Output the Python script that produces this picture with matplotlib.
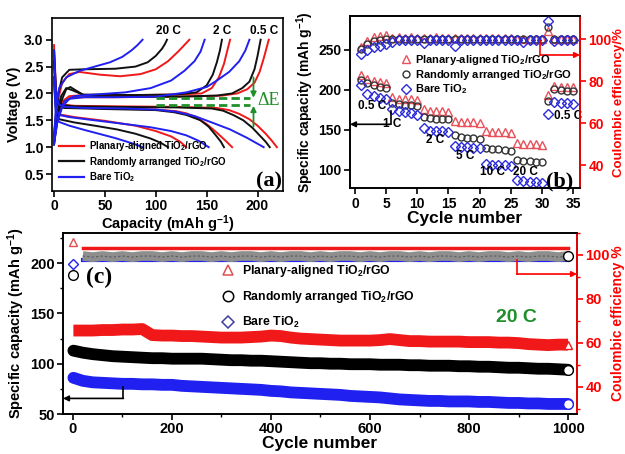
import numpy as np
import matplotlib
matplotlib.use('Agg')
import matplotlib.pyplot as plt
from matplotlib.lines import Line2D
from matplotlib.ticker import MultipleLocator

plt.rcParams['font.family'] = ['Liberation Sans', 'DejaVu Sans']
plt.rcParams['font.weight'] = 'bold'
plt.rcParams['mathtext.fontset'] = 'custom'
plt.rcParams['mathtext.rm'] = 'Liberation Sans:bold'
plt.rcParams['mathtext.it'] = 'Liberation Sans:bold'
plt.rcParams['mathtext.bf'] = 'Liberation Sans:bold'
plt.rcParams['axes.linewidth'] = 1.2

RED = '#f01818'
BLACK = '#111111'
BLUE = '#2020f0'
GREEN = '#1f8f2a'

# ---------------- panel (a): charge/discharge profiles ----------------
red_05_dis_cap = [0, 2, 5, 10, 20, 60, 120, 160, 172, 182, 192, 200, 208, 214, 219]
red_05_dis_v = [2.9, 2.05, 1.85, 1.79, 1.77, 1.76, 1.75, 1.73, 1.69, 1.62, 1.52, 1.40, 1.25, 1.12, 1.0]
red_05_chg_cap = [0, 3, 7, 12, 20, 60, 120, 165, 180, 190, 197, 202, 206, 211]
red_05_chg_v = [1.05, 1.55, 1.8, 1.9, 1.93, 1.93, 1.94, 1.96, 2.0, 2.08, 2.2, 2.4, 2.65, 3.0]
red_2_dis_cap = [0, 2, 5, 10, 50, 100, 120, 130, 138, 150, 160, 168, 175]
red_2_dis_v = [2.7, 1.9, 1.77, 1.74, 1.72, 1.7, 1.67, 1.63, 1.57, 1.43, 1.27, 1.13, 1.0]
red_2_chg_cap = [0, 3, 8, 15, 30, 80, 120, 145, 155, 162, 167, 170, 173]
red_2_chg_v = [1.1, 1.55, 1.85, 1.95, 1.97, 1.97, 1.98, 2.0, 2.1, 2.3, 2.55, 2.78, 3.0]
red_20_dis_cap = [0, 2, 5, 20, 50, 80, 100, 115, 124, 130]
red_20_dis_v = [2.5, 1.72, 1.61, 1.56, 1.49, 1.4, 1.3, 1.2, 1.1, 1.0]
red_20_chg_cap = [0, 3, 8, 15, 25, 45, 65, 85, 100, 112, 122, 128, 133]
red_20_chg_v = [1.2, 1.8, 2.2, 2.36, 2.4, 2.35, 2.32, 2.36, 2.45, 2.6, 2.78, 2.9, 3.0]

black_05_dis_cap = [0, 2, 5, 10, 20, 60, 120, 155, 166, 176, 186, 195, 202, 208, 212]
black_05_dis_v = [2.8, 2.0, 1.82, 1.78, 1.76, 1.75, 1.74, 1.72, 1.68, 1.6, 1.5, 1.36, 1.22, 1.1, 1.0]
black_05_chg_cap = [0, 3, 7, 12, 16, 22, 30, 60, 120, 160, 175, 185, 192, 197, 200, 203]
black_05_chg_v = [1.05, 1.5, 1.85, 2.08, 2.12, 2.05, 1.96, 1.94, 1.94, 1.96, 2.0, 2.1, 2.22, 2.45, 2.7, 3.0]
black_2_dis_cap = [0, 2, 5, 10, 50, 100, 118, 130, 144, 152, 159, 164, 167]
black_2_dis_v = [2.6, 1.88, 1.76, 1.73, 1.71, 1.69, 1.65, 1.6, 1.5, 1.38, 1.22, 1.1, 1.0]
black_2_chg_cap = [0, 3, 7, 12, 18, 28, 80, 120, 140, 150, 156, 160, 163, 165]
black_2_chg_v = [1.1, 1.6, 1.95, 2.1, 2.06, 1.98, 1.97, 1.98, 2.02, 2.15, 2.35, 2.58, 2.8, 3.0]
black_20_dis_cap = [0, 2, 5, 20, 40, 62, 80, 95, 105, 112]
black_20_dis_v = [2.3, 1.6, 1.52, 1.46, 1.4, 1.33, 1.25, 1.16, 1.08, 1.0]
black_20_chg_cap = [0, 3, 8, 15, 30, 60, 80, 92, 100, 106, 109, 111]
black_20_chg_v = [1.2, 1.9, 2.3, 2.44, 2.45, 2.46, 2.5, 2.58, 2.7, 2.83, 2.92, 3.0]

blue_05_dis_cap = [0, 2, 5, 10, 30, 70, 100, 120, 138, 155, 173, 190, 206]
blue_05_dis_v = [2.8, 1.95, 1.79, 1.75, 1.73, 1.72, 1.7, 1.66, 1.58, 1.46, 1.33, 1.17, 1.0]
blue_05_chg_cap = [0, 3, 8, 15, 30, 60, 100, 130, 150, 160, 172, 182, 188, 192]
blue_05_chg_v = [1.05, 1.45, 1.75, 1.9, 1.93, 1.93, 1.94, 2.02, 2.12, 2.24, 2.4, 2.6, 2.8, 3.0]
blue_2_dis_cap = [0, 2, 5, 15, 40, 70, 95, 115, 130, 142, 152]
blue_2_dis_v = [2.3, 1.7, 1.6, 1.56, 1.5, 1.43, 1.37, 1.3, 1.22, 1.12, 1.0]
blue_2_chg_cap = [0, 4, 10, 20, 40, 70, 95, 115, 128, 138, 144, 148]
blue_2_chg_v = [1.1, 1.55, 1.85, 1.95, 1.98, 2.02, 2.1, 2.24, 2.42, 2.6, 2.78, 3.0]
blue_20_dis_cap = [0, 2, 5, 15, 30, 46, 60, 72, 80, 87]
blue_20_dis_v = [2.2, 1.55, 1.47, 1.4, 1.32, 1.24, 1.17, 1.1, 1.05, 1.0]
blue_20_chg_cap = [0, 2, 5, 12, 25, 40, 55, 67, 76, 82, 87]
blue_20_chg_v = [1.2, 1.75, 2.1, 2.3, 2.42, 2.5, 2.58, 2.68, 2.8, 2.9, 3.0]

# ---------------- panel (b): rate capability ----------------
cycles_b = np.arange(1, 36)
red_cap_b = [219, 213, 211, 210, 209, 191, 189, 188, 188, 187, 176, 174, 173, 173, 172,
             161, 160, 160, 160, 159, 149, 147, 147, 147, 146, 134, 132, 132, 132, 131,
             193, 205, 204, 204, 203]
black_cap_b = [212, 208, 206, 204, 202, 184, 182, 181, 181, 180, 166, 165, 164, 164, 163,
               144, 141, 140, 140, 139, 127, 126, 126, 125, 124, 112, 111, 111, 110, 110,
               186, 201, 200, 199, 198]
blue_cap_b = [206, 195, 192, 190, 188, 176, 173, 172, 171, 169, 152, 149, 149, 149, 148,
              130, 129, 129, 128, 128, 107, 106, 106, 106, 105, 87, 86, 85, 85, 84,
              170, 185, 184, 183, 182]
red_ce_b = [96.5, 99, 101, 101.5, 102, 100.5, 101, 100.5, 101, 100.5, 100.5, 100.5, 101, 100.5,
            100.5, 100.5, 100.5, 100.5, 100.5, 100.5, 100.5, 100.5, 100.5, 100.5, 100.5,
            100, 100, 100, 100, 100, 104, 100, 100, 100, 100]
black_ce_b = [95.5, 97.5, 99, 99.5, 100, 100, 100, 100, 100, 100, 100, 100, 100, 100, 100,
              100, 100, 100, 100, 100, 100, 100, 100, 100, 100, 100, 100, 100, 100, 100,
              106, 100, 100, 100, 100]
blue_ce_b = [93, 95, 96.5, 97, 97.5, 98.5, 99.5, 99.5, 99.5, 99.5, 98, 99.5, 99.5, 99.5, 99.5,
             97, 99.5, 99.5, 99.5, 99.5, 99.5, 99.5, 99.5, 99.5, 99.5, 99.5, 98.5, 99.5, 99.5,
             99.5, 108.5, 99, 99.5, 99.5, 99.5]

# ---------------- panel (c): long cycling at 20 C ----------------
cycles_c = np.concatenate([[1], np.arange(20, 1001, 20)])
red_cap_c = [133, 133, 133, 133.5, 133.5, 134, 134, 134.5, 128.5, 128,
             128, 127.5, 127.5, 127, 126.5, 126, 126, 126, 126.5, 127,
             128, 127.5, 126, 125, 124.5, 124, 123.5, 123, 123, 123,
             123, 123.5, 124.5, 123.5, 122.5, 122.5, 122, 122, 122, 122,
             121.5, 121.5, 121.5, 121, 121, 120.5, 119.5, 119, 118.5, 119,
             119]
black_cap_c = [113, 111, 109.5, 108.5, 107.5, 107, 106.5, 106, 105.5, 105.5,
               105, 105, 105, 105, 104.5, 104, 103.5, 103.5, 103, 103,
               102.5, 102, 101.5, 101, 100.5, 100.5, 100, 100, 99.5, 99.5,
               99.5, 99, 99, 99, 98.5, 98.5, 98, 98, 98, 97.5,
               97.5, 97, 97, 96.5, 96, 96, 95.5, 95, 95, 94.5,
               94]
blue_cap_c = [86, 83, 81.5, 81, 80.5, 80, 80, 79.5, 79.5, 79,
              79, 78, 77.5, 77, 76.5, 76, 75.5, 75, 74.5, 74,
              73, 72.5, 71.5, 71, 70.5, 70, 69.5, 69, 68, 67.5,
              67, 66.5, 65.5, 64.5, 64, 63.5, 63, 63, 62.5, 62.5,
              62.5, 62, 62, 61.5, 61, 61, 60.5, 60.5, 60, 60,
              60]
red_ce_c = [106, 103, 103, 103, 103, 103, 103, 103, 103, 103,
            103, 103, 103, 103, 103, 103, 103, 103, 103, 103,
            103, 103, 103, 103, 103, 103, 103, 103, 103, 103,
            103, 103, 103, 103, 103, 103, 103, 103, 103, 103,
            103, 103, 103, 103, 103, 103, 103, 103, 103, 103,
            103]
black_ce_c = [91, 99.5, 99, 99.5, 99, 99.5, 99, 99.5, 99.5, 99,
              99.5, 99, 99.5, 99.5, 99, 99.5, 99, 99.5, 99.5, 99,
              99.5, 99, 99.5, 99.5, 99, 99.5, 99, 99.5, 99.5, 99,
              99.5, 99, 99.5, 99.5, 99, 99.5, 99, 99.5, 99.5, 99,
              99.5, 99, 99.5, 99.5, 99, 99.5, 99, 99.5, 99.5, 99,
              99.5]
blue_ce_c = [96, 97.5, 97.5, 97.5, 97.5, 97.5, 97.5, 97.5, 97.5, 97.5,
             97.5, 97.5, 97.5, 97.5, 97.5, 97.5, 97.5, 97.5, 97.5, 97.5,
             97.5, 97.5, 97.5, 97.5, 97.5, 97.5, 97.5, 97.5, 97.5, 97.5,
             97.5, 97.5, 97.5, 97.5, 97.5, 97.5, 97.5, 97.5, 97.5, 97.5,
             97.5, 97.5, 97.5, 97.5, 97.5, 97.5, 97.5, 97.5, 97.5, 97.5,
             97.5]

labels = ['Planary-aligned TiO$_2$/rGO', 'Randomly arranged TiO$_2$/rGO', 'Bare TiO$_2$']


def style_axis(ax, size=10):
    ax.tick_params(direction='out', length=4, width=1.2, labelsize=size, pad=2)
    for lab in ax.get_xticklabels() + ax.get_yticklabels():
        lab.set_fontweight('bold')


def red_right(ax):
    ax.spines['right'].set_color('red')
    ax.tick_params(axis='y', colors='red', which='both')


fig = plt.figure(figsize=(6.25, 4.54), dpi=100)

# ---------------- (a) ----------------
ax_a = fig.add_axes([0.0832, 0.58, 0.3696, 0.381])
curves = [
    (red_05_dis_cap, red_05_dis_v, RED), (red_05_chg_cap, red_05_chg_v, RED),
    (red_2_dis_cap, red_2_dis_v, RED), (red_2_chg_cap, red_2_chg_v, RED),
    (red_20_dis_cap, red_20_dis_v, RED), (red_20_chg_cap, red_20_chg_v, RED),
    (black_05_dis_cap, black_05_dis_v, BLACK), (black_05_chg_cap, black_05_chg_v, BLACK),
    (black_2_dis_cap, black_2_dis_v, BLACK), (black_2_chg_cap, black_2_chg_v, BLACK),
    (black_20_dis_cap, black_20_dis_v, BLACK), (black_20_chg_cap, black_20_chg_v, BLACK),
    (blue_05_dis_cap, blue_05_dis_v, BLUE), (blue_05_chg_cap, blue_05_chg_v, BLUE),
    (blue_2_dis_cap, blue_2_dis_v, BLUE), (blue_2_chg_cap, blue_2_chg_v, BLUE),
    (blue_20_dis_cap, blue_20_dis_v, BLUE), (blue_20_chg_cap, blue_20_chg_v, BLUE),
]
for cap, v, col in curves:
    ax_a.plot(cap, v, color=col, lw=1.4)

ax_a.plot([100, 193], [1.91, 1.91], color=GREEN, lw=2, ls=(0, (3, 1.5)))
ax_a.plot([100, 193], [1.78, 1.78], color=GREEN, lw=2, ls=(0, (3, 1.5)))
arr = dict(arrowstyle='-|>', color=GREEN, lw=1.3, mutation_scale=8, shrinkA=0, shrinkB=0)
ax_a.annotate('', xy=(196, 1.92), xytext=(196, 2.3), arrowprops=arr)
ax_a.annotate('', xy=(196, 1.77), xytext=(196, 1.38), arrowprops=arr)
ax_a.text(211, 1.86, 'ΔE', color=GREEN, fontsize=13, family='Liberation Serif',
          fontweight='normal', ha='center', va='center')
ax_a.text(112, 3.16, '20 C', fontsize=8.5, ha='center', va='center')
ax_a.text(165, 3.16, '2 C', fontsize=8.5, ha='center', va='center')
ax_a.text(206, 3.16, '0.5 C', fontsize=8.5, ha='center', va='center')
ax_a.text(211, 0.37, '(a)', fontsize=16, family='Liberation Serif', ha='center', va='center')

ax_a.set_xlim(-2, 225)
ax_a.set_ylim(0.19, 3.41)
ax_a.xaxis.set_major_locator(MultipleLocator(50))
ax_a.yaxis.set_major_locator(MultipleLocator(0.5))
ax_a.set_xlabel('Capacity (mAh g$^{-1}$)', fontsize=10.5, fontweight='bold', labelpad=0)
ax_a.set_ylabel('Voltage (V)', fontsize=10.5, fontweight='bold', labelpad=2)
style_axis(ax_a)
handles_a = [Line2D([], [], color=c, lw=1.6) for c in (RED, BLACK, BLUE)]
ax_a.legend(handles_a, labels, loc='lower left', bbox_to_anchor=(0.0, 0.0), frameon=False,
            fontsize=7, handlelength=2.6, handletextpad=0.5, labelspacing=0.15, borderaxespad=0.3)

# ---------------- (b) ----------------
ax_b = fig.add_axes([0.56, 0.585, 0.368, 0.3795])
ax_b2 = ax_b.twinx()
mk_red = dict(marker='^', ls='none', ms=5.5, mfc='none', mec='#e8505a', mew=1)
mk_black = dict(marker='o', ls='none', ms=5, mfc='none', mec='#333333', mew=1)
mk_blue = dict(marker='D', ls='none', ms=5, mfc='none', mec='#2b2bd8', mew=1)
ax_b.plot(cycles_b, red_cap_b, **mk_red)
ax_b.plot(cycles_b, black_cap_b, **mk_black)
ax_b.plot(cycles_b, blue_cap_b, **mk_blue)
ax_b2.plot(cycles_b, red_ce_b, **mk_red)
ax_b2.plot(cycles_b, black_ce_b, **mk_black)
ax_b2.plot(cycles_b, blue_ce_b, **mk_blue)

ax_b.set_xlim(-0.8, 36.1)
ax_b.set_ylim(77, 292)
ax_b2.set_ylim(29, 111)
ax_b.xaxis.set_major_locator(MultipleLocator(5))
ax_b.yaxis.set_major_locator(MultipleLocator(50))
ax_b2.yaxis.set_major_locator(MultipleLocator(20))
ax_b.set_xlabel('Cycle number', fontsize=12.5, fontweight='bold', labelpad=0)
ax_b.set_ylabel('Specific capacity (mAh g$^{-1}$)', fontsize=10, fontweight='bold', labelpad=2)
ax_b2.set_ylabel('Coulombic efficiency/%', fontsize=9.5, fontweight='bold', color='red', labelpad=1)
style_axis(ax_b)
style_axis(ax_b2)
red_right(ax_b2)

for txt, x, y in [('0.5 C', 2.7, 180), ('1 C', 5.9, 157), ('2 C', 12.8, 138), ('5 C', 17.6, 117),
                  ('10 C', 22, 97), ('20 C', 27.4, 97), ('0.5 C', 34.2, 167)]:
    ax_b.text(x, y, txt, fontsize=8.5, ha='center', va='center')
ax_b.text(32.9, 86, '(b)', fontsize=16, family='Liberation Serif', ha='center', va='center')

ax_b.plot([5.7, 5.7], [173, 157], color='k', lw=1.2)
ax_b.annotate('', xy=(-0.8, 157), xytext=(5.7, 157),
              arrowprops=dict(arrowstyle='-|>', color='k', lw=1.2, mutation_scale=8, shrinkA=0, shrinkB=0))
ax_b2.plot([29.7, 29.7], [99, 92.5], color='red', lw=1.2)
ax_b2.annotate('', xy=(36.1, 92.5), xytext=(29.7, 92.5),
               arrowprops=dict(arrowstyle='-|>', color='red', lw=1.2, mutation_scale=8, shrinkA=0, shrinkB=0))

handles_b = [Line2D([], [], **mk_red), Line2D([], [], **mk_black), Line2D([], [], **mk_blue)]
ax_b2.legend(handles_b, labels, loc='upper left', bbox_to_anchor=(0.2, 0.81), frameon=False,
             fontsize=8, handlelength=1.0, handletextpad=0.3, labelspacing=0.05, borderaxespad=0)

# ---------------- (c) ----------------
ax_c = fig.add_axes([0.1008, 0.0881, 0.8224, 0.3987])
ax_c2 = ax_c.twinx()
ax_c.plot(cycles_c, red_cap_c, color=RED, lw=8.5, solid_capstyle='butt', solid_joinstyle='round')
ax_c.plot(cycles_c, black_cap_c, color='k', lw=8.5, solid_capstyle='round')
ax_c.plot(cycles_c, blue_cap_c, color=BLUE, lw=8.5, solid_capstyle='round')
ax_c.plot(cycles_c[-1], red_cap_c[-1], marker='^', ms=6, mfc='white', mec=RED, mew=1)
ax_c.plot(cycles_c[-1], black_cap_c[-1], marker='o', ms=7, mfc='white', mec='k', mew=1)
ax_c.plot(cycles_c[-1], blue_cap_c[-1], marker='o', ms=7, mfc='white', mec=BLUE, mew=1)

ax_c2.plot(cycles_c[1:], blue_ce_c[1:], color=BLUE, lw=3)
ax_c2.plot(cycles_c[1:], red_ce_c[1:], color=RED, lw=2.5)
ax_c2.plot(cycles_c[1:], black_ce_c[1:], color='#8e8e8e', lw=7, solid_capstyle='butt')
ax_c2.plot(cycles_c[1:], black_ce_c[1:], color='#5a5a5a', lw=0.8, ls=(0, (2, 2)))
ax_c2.plot(cycles_c[0], red_ce_c[0], marker='^', ms=6, mfc='none', mec='#e05050', mew=1)
ax_c2.plot(cycles_c[0], black_ce_c[0], marker='o', ms=7, mfc='white', mec='k', mew=1)
ax_c2.plot(cycles_c[0], blue_ce_c[0], marker='D', ms=5, mfc='none', mec=BLUE, mew=1)
ax_c2.plot(cycles_c[-1], black_ce_c[-1], marker='o', ms=7, mfc='white', mec='k', mew=1)

ax_c.set_xlim(-20, 1018)
ax_c.set_ylim(50, 230)
ax_c2.set_ylim(27.5, 110)
ax_c.xaxis.set_major_locator(MultipleLocator(200))
ax_c.xaxis.set_minor_locator(MultipleLocator(100))
ax_c.yaxis.set_major_locator(MultipleLocator(50))
ax_c.yaxis.set_minor_locator(MultipleLocator(25))
ax_c2.yaxis.set_major_locator(MultipleLocator(20))
ax_c2.yaxis.set_minor_locator(MultipleLocator(10))
ax_c.set_xlabel('Cycle number', fontsize=12.5, fontweight='bold', labelpad=0)
ax_c.set_ylabel('Specific capacity (mAh g$^{-1}$)', fontsize=10.5, fontweight='bold', labelpad=2)
ax_c2.set_ylabel('Coulombic efficiency %', fontsize=10, fontweight='bold', color='red', labelpad=1)
style_axis(ax_c, 10.5)
style_axis(ax_c2, 10.5)
ax_c.tick_params(which='minor', direction='out', length=2.5, width=1)
ax_c2.tick_params(which='minor', direction='out', length=2.5, width=1)
red_right(ax_c2)

ax_c.text(53, 186, '(c)', fontsize=17, family='Liberation Serif', ha='center', va='center')
ax_c.text(895, 146, '20 C', fontsize=14, color=GREEN, ha='center', va='center')
ax_c.plot([102, 102], [77, 65.5], color='k', lw=1.2)
ax_c.annotate('', xy=(-20, 65.5), xytext=(102, 65.5),
              arrowprops=dict(arrowstyle='-|>', color='k', lw=1.2, mutation_scale=8, shrinkA=0, shrinkB=0))
ax_c2.plot([896, 896], [97.5, 91.3], color='red', lw=1.2)
ax_c2.annotate('', xy=(1018, 91.3), xytext=(896, 91.3),
               arrowprops=dict(arrowstyle='-|>', color='red', lw=1.2, mutation_scale=8, shrinkA=0, shrinkB=0))

handles_c = [Line2D([], [], marker='^', ls='none', ms=7, mfc='none', mec='#e05050', mew=1.1),
             Line2D([], [], marker='o', ls='none', ms=7.5, mfc='none', mec='k', mew=1.1),
             Line2D([], [], marker='D', ls='none', ms=6, mfc='none', mec='#4040a0', mew=1.1)]
ax_c2.legend(handles_c, labels, loc='upper left', bbox_to_anchor=(0.3, 0.86), frameon=False,
             fontsize=8.8, handlelength=1.0, handletextpad=0.6, labelspacing=0.8, borderaxespad=0)

fig.savefig('out.png', dpi=100)
